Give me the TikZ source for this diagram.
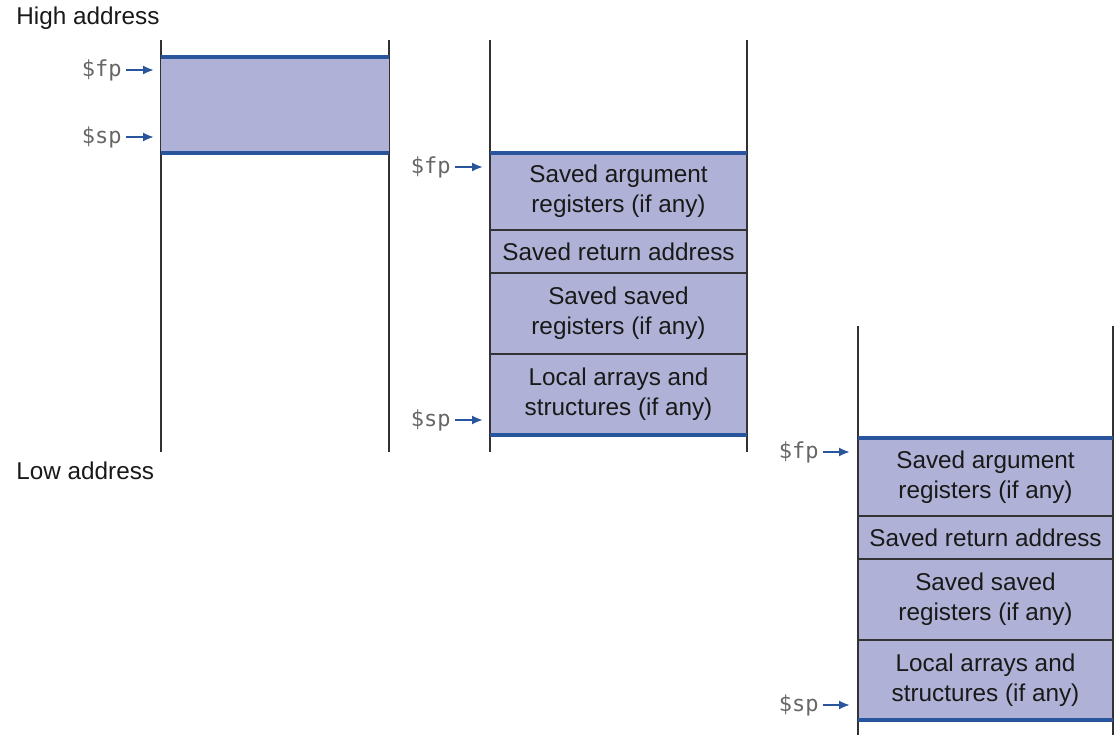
\documentclass[tikz,border=0pt]{standalone}
\usepackage{fontspec}
\setmainfont{Liberation Sans}
\newfontfamily\regfont{DejaVu Sans Mono}
\usetikzlibrary{positioning,arrows.meta}
\definecolor{stackfill}{RGB}{175,178,214}
\definecolor{ptrblue}{RGB}{40,85,155}
\definecolor{wallgray}{RGB}{50,50,50}
\tikzset{
  wall/.style={draw=wallgray,line width=0.8pt},
  edge/.style={draw=ptrblue,line width=1.7pt},
  cell/.style={rectangle,fill=stackfill,draw=black!80,line width=0.6pt,outer sep=0pt,align=center,inner sep=0pt,font=\fontsize{12.15}{15}\selectfont,text=black!90},
  reg/.style={anchor=east,inner sep=0pt,font=\regfont\fontsize{11}{13}\selectfont,text=black!60},
  ptr/.style={draw=ptrblue,line width=1pt,shorten <=2pt,-{Latex[length=5.5pt,width=4.5pt]}},
  addr/.style={anchor=west,inner sep=0pt,font=\fontsize{12.15}{15}\selectfont,text=black!90}
}
\begin{document}
\begin{tikzpicture}[x=0.5pt,y=-0.5pt]
  \useasboundingbox (0,0) rectangle (1115,735);
  \node[addr] (high) at (16,18) {High address};
  \node[addr] (low) at (16,471) {Low address};

  % before the call
  \draw[wall] (161,40) -- (161,452); \draw[wall] (389,40) -- (389,452);
  \node[cell,draw=none,minimum width=114pt,minimum height=48pt] (frame) at (275,105) {};
  \draw[edge] (frame.north west) -- (frame.north east);
  \draw[edge] (frame.south west) -- (frame.south east);
  \node[reg] (fp1) at (122,70) {\$fp}; \coordinate (fp1tip) at (154,70);
  \node[reg] (sp1) at (122,137) {\$sp}; \coordinate (sp1tip) at (154,137);
  \draw[ptr] (fp1) -- (fp1tip); \draw[ptr] (sp1) -- (sp1tip);

  % during the call
  \draw[wall] (490,40) -- (490,452); \draw[wall] (747,40) -- (747,452);
  \node[cell,minimum width=128.5pt,minimum height=38.5pt,anchor=north] (argA) at (618.5,153) {Saved argument\\registers (if any)};
  \node[cell,minimum width=128.5pt,minimum height=21.5pt,below=0pt of argA] (retA) {Saved return address};
  \node[cell,minimum width=128.5pt,minimum height=40.5pt,below=0pt of retA] (regA) {Saved saved\\registers (if any)};
  \node[cell,minimum width=128.5pt,minimum height=40.5pt,below=0pt of regA] (locA) {Local arrays and\\structures (if any)};
  \draw[edge] (argA.north west) -- (argA.north east);
  \draw[edge] (locA.south west) -- (locA.south east);
  \node[reg] (fp2) at (451,167) {\$fp}; \coordinate (fp2tip) at (483,167);
  \node[reg] (sp2) at (451,420) {\$sp}; \coordinate (sp2tip) at (483,420);
  \draw[ptr] (fp2) -- (fp2tip); \draw[ptr] (sp2) -- (sp2tip);

  % after a further call
  \draw[wall] (858,326) -- (858,735); \draw[wall] (1113,326) -- (1113,735);
  \node[cell,minimum width=127.5pt,minimum height=39pt,anchor=north] (argB) at (985.5,438) {Saved argument\\registers (if any)};
  \node[cell,minimum width=127.5pt,minimum height=21.5pt,below=0pt of argB] (retB) {Saved return address};
  \node[cell,minimum width=127.5pt,minimum height=40.5pt,below=0pt of retB] (regB) {Saved saved\\registers (if any)};
  \node[cell,minimum width=127.5pt,minimum height=40pt,below=0pt of regB] (locB) {Local arrays and\\structures (if any)};
  \draw[edge] (argB.north west) -- (argB.north east);
  \draw[edge] (locB.south west) -- (locB.south east);
  \node[reg] (fp3) at (819,452) {\$fp}; \coordinate (fp3tip) at (850,452);
  \node[reg] (sp3) at (819,705) {\$sp}; \coordinate (sp3tip) at (850,705);
  \draw[ptr] (fp3) -- (fp3tip); \draw[ptr] (sp3) -- (sp3tip);
\end{tikzpicture}
\end{document}
